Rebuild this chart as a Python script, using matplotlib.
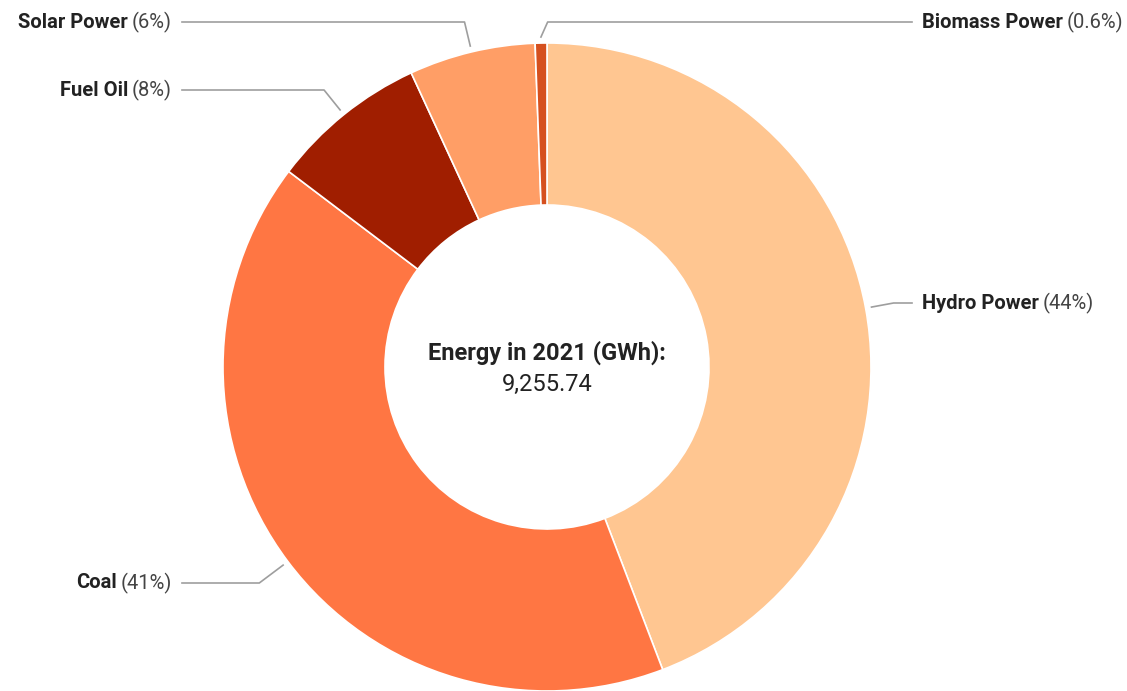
import matplotlib
matplotlib.use("Agg")
import matplotlib.pyplot as plt
import numpy as np

# Energy mix 2021 (GWh)
sources = ['Hydro Power', 'Coal', 'Fuel Oil', 'Solar Power', 'Biomass Power']
energy_gwh = [4089.9, 3806.5, 722.1, 583.1, 54.14]
colors = ['#FFC691', '#FF7643', '#A01E00', '#FF9E66', '#D5501F']
total = sum(energy_gwh)

# label layout (pixel coords, y measured from top), side of chart
label_pos = [(922, 303), (172, 583), (172, 90), (172, 22), (922, 22)]
elbow_nudge = [0, 0, 0, 0, 7]

W, H = 1127, 691
plt.rcParams['font.family'] = ['Roboto', 'DejaVu Sans']
fig = plt.figure(figsize=(W / 100, H / 100), dpi=100)
ax = fig.add_axes([0, 0, 1, 1])

cx, cy, R = 547, H - 367, 324
wedges, _ = ax.pie(energy_gwh, colors=colors, startangle=90, counterclock=False,
                   center=(cx, cy), radius=R, frame=True,
                   wedgeprops=dict(width=R * 0.5, edgecolor='white', linewidth=1.2))
ax.set_xlim(0, W)
ax.set_ylim(0, H)
ax.set_aspect('equal')
ax.axis('off')

renderer = fig.canvas.get_renderer()
line_col = '#9E9E9E'
fs = 14.5
for w, name, v, (lx, ly), nud in zip(wedges, sources, energy_gwh, label_pos, elbow_nudge):
    pct = v / total * 100
    pct_txt = f"({pct:.1f}%)" if pct < 1 else f"({pct:.0f}%)"
    ang = np.deg2rad((w.theta1 + w.theta2) / 2)
    ax_ = cx + (R + 6) * np.cos(ang)
    ay_ = cy + (R + 6) * np.sin(ang)
    LY = H - ly
    # radial run up to label height
    t = (LY - ay_) / np.sin(ang) if abs(np.sin(ang)) > 1e-6 else 0
    ex = ax_ + t * np.cos(ang) + nud
    if lx > cx:
        ax.plot([ax_, ex, lx - 10], [ay_, LY, LY], color=line_col, lw=1.2)
        t1 = ax.text(lx, LY, name, ha='left', va='center', fontsize=fs,
                     fontweight='bold', color='#222222')
        bb = t1.get_window_extent(renderer)
        ax.text(lx + bb.width + 4, LY, pct_txt, ha='left', va='center',
                fontsize=fs, color='#444444')
    else:
        ax.plot([ax_, ex, lx + 10], [ay_, LY, LY], color=line_col, lw=1.2)
        t2 = ax.text(lx, LY, pct_txt, ha='right', va='center', fontsize=fs,
                     color='#444444')
        bb = t2.get_window_extent(renderer)
        ax.text(lx - bb.width - 4, LY, name, ha='right', va='center',
                fontsize=fs, fontweight='bold', color='#222222')

ax.text(cx, H - 353, "Energy in 2021 (GWh):", ha='center', va='center',
        fontsize=17, fontweight='bold', color='#222222')
ax.text(cx, H - 384, f"{total:,.2f}", ha='center', va='center',
        fontsize=17, color='#222222')

fig.savefig('out.png', dpi=100, facecolor='white')
